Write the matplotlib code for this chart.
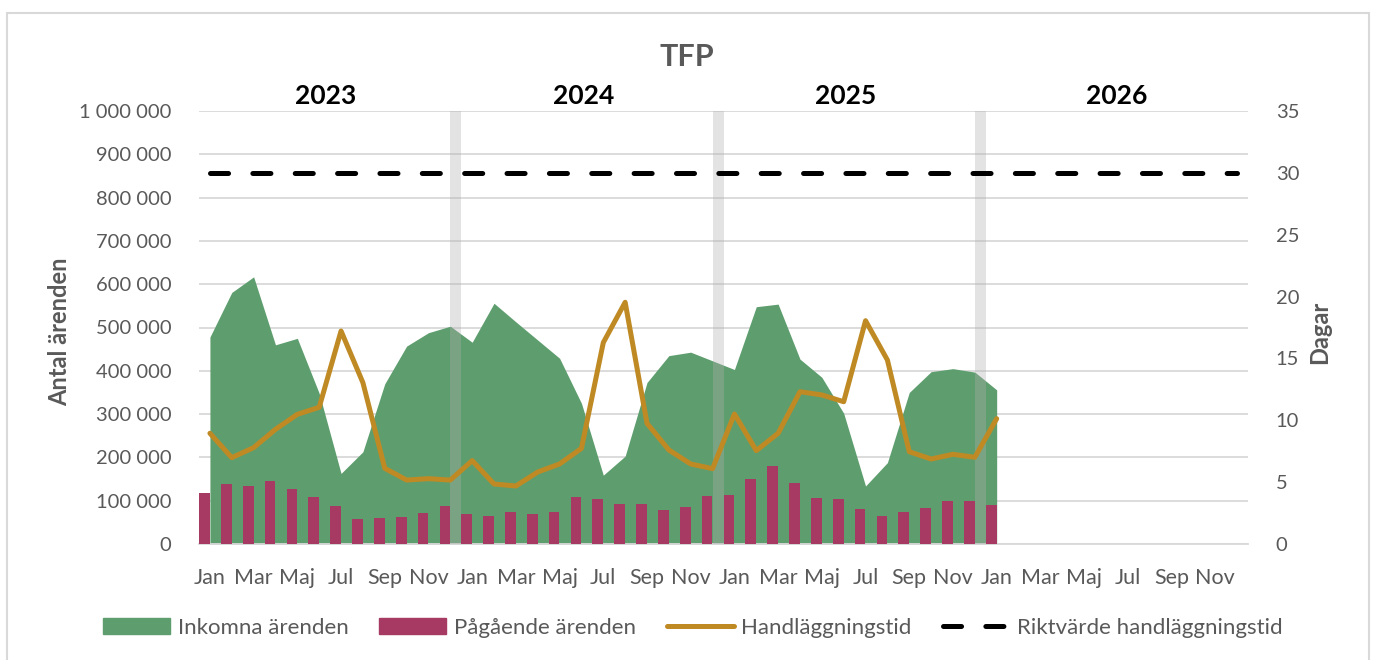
import numpy as np
import matplotlib
matplotlib.use("Agg")
import matplotlib.pyplot as plt
from matplotlib.patches import Rectangle, Patch
from matplotlib.lines import Line2D
from matplotlib.ticker import FuncFormatter

plt.rcParams["font.family"] = ["Lato", "DejaVu Sans"]
plt.rcParams["lines.scale_dashes"] = False

# data, jan 2023 - jan 2026
years = ["2023", "2024", "2025", "2026"]
month_labels = ["Jan", "Mar", "Maj", "Jul", "Sep", "Nov"] * 4
inkomna = [478000, 581000, 617000, 460000, 475000, 348000, 163000, 213000, 370000,
           457000, 488000, 503000, 466000, 556000, 513000, 471000, 429000, 325000,
           159000, 203000, 373000, 435000, 443000, 423000, 403000, 548000, 554000,
           427000, 385000, 302000, 134000, 188000, 350000, 398000, 405000, 397000,
           356000]
pagaende = [118000, 139000, 134000, 146000, 126000, 108000, 88000, 58000, 59000,
            62000, 72000, 88000, 69000, 65000, 74000, 69000, 73000, 108000,
            105000, 92000, 92000, 78000, 85000, 111000, 113000, 150000, 180000,
            140000, 106000, 103000, 81000, 64000, 73000, 83000, 99000, 99000,
            90000]
handlaggningstid = [8.95, 6.98, 7.79, 9.27, 10.48, 11.05, 17.22, 13.04, 6.12, 5.17,
                    5.28, 5.17, 6.74, 4.85, 4.69, 5.82, 6.47, 7.73, 16.28, 19.54,
                    9.75, 7.6, 6.47, 6.09, 10.51, 7.55, 8.95, 12.31, 12.05, 11.5,
                    18.05, 14.87, 7.46, 6.87, 7.25, 7.01, 10.13]
riktvarde = [30] * 48
arsgrans_manad = [11, 23, 35]  # december, grey separator
arsgrans_varde = 1000000

GREEN = "#5E9E6E"
PINK = "#A63A62"
GOLD = "#BF8A24"
GREY_TXT = "#595959"
GRID = "#D9D9D9"

fig = plt.figure(figsize=(13.74, 6.6), dpi=100)
ax = fig.add_axes([199 / 1374, 1 - 544 / 660, 1049 / 1374, 433 / 660])
ax2 = ax.twinx()

x = np.arange(len(inkomna))
ax.fill_between(x, 0, inkomna, color=GREEN, linewidth=0, zorder=2)
ax.bar(x - 0.25, pagaende, width=0.49, color=PINK, zorder=3)
ax.bar(np.array(arsgrans_manad) + 0.25, [arsgrans_varde] * len(arsgrans_manad),
       width=0.5, color="#AFAFAF", alpha=0.35, linewidth=0, zorder=4)

ax2.plot(x, handlaggningstid, color=GOLD, lw=3.6, solid_joinstyle="round",
         solid_capstyle="round", zorder=5)
ax2.plot(np.arange(48), riktvarde, color="black", lw=3.6, dashes=(13, 17.5),
         dash_capstyle="round", zorder=5)

ax.set_xlim(-0.5, 47.5)
ax.set_ylim(0, 1000000)
ax.set_yticks(np.arange(0, 1000001, 100000))
ax.yaxis.set_major_formatter(FuncFormatter(lambda v, p: f"{int(v):,}".replace(",", " ")))
ax2.set_ylim(0, 35)
ax2.set_yticks(np.arange(0, 36, 5))

ax.set_xticks(np.arange(0, 48, 2))
ax.set_xticklabels(month_labels)
ax.grid(axis="y", color=GRID, lw=1.3, zorder=0)
ax.set_axisbelow(True)

for a in (ax, ax2):
    for s in a.spines.values():
        s.set_visible(False)
    a.tick_params(length=0, labelsize=14.5, labelcolor=GREY_TXT)
ax.spines["bottom"].set_visible(True)
ax.spines["bottom"].set_color(GRID)
ax.spines["bottom"].set_linewidth(1.3)
ax.tick_params(axis="x", pad=17, labelsize=15.5)
ax.tick_params(axis="y", pad=20)
ax2.tick_params(axis="y", pad=20)

# year labels above plot
for yr, xc in zip(years, [5.3, 17.1, 29.1, 41.5]):
    ax.text(xc, 1.035, yr, transform=ax.get_xaxis_transform(), ha="center",
            va="center", fontsize=19, fontweight="bold", color="black")

fig.text(0.5, 1 - 57 / 660, "TFP", ha="center", va="center", fontsize=22,
         fontweight="bold", color=GREY_TXT)
fig.text(60 / 1374, 1 - 332 / 660, "Antal ärenden", rotation=90, ha="center",
         va="center", fontsize=17, fontweight="bold", color=GREY_TXT)
fig.text(1320 / 1374, 1 - 332 / 660, "Dagar", rotation=90, ha="center",
         va="center", fontsize=17, fontweight="bold", color=GREY_TXT)

handles = [
    Patch(color=GREEN),
    Patch(color=PINK),
    Line2D([], [], color=GOLD, lw=3.6, solid_capstyle="round"),
    Line2D([], [], color="black", lw=3.6, dashes=(13, 17.5), dash_capstyle="round"),
]
labels = ["Inkomna ärenden", "Pågående ärenden", "Handläggningstid",
          "Riktvärde handläggningstid"]
leg = fig.legend(handles, labels, loc="center", ncol=4,
                 bbox_to_anchor=(693 / 1374, 1 - 628 / 660), frameon=False,
                 fontsize=16, handlelength=3.0, handleheight=0.75,
                 columnspacing=1.4, handletextpad=0.35)
for t in leg.get_texts():
    t.set_color(GREY_TXT)

fig.patches.append(Rectangle((7 / 1374, -0.02), 1362 / 1374, 1 - 13 / 660 + 0.02,
                             transform=fig.transFigure, fill=False,
                             edgecolor=GRID, lw=1.5))

fig.savefig("out.png", dpi=100)
